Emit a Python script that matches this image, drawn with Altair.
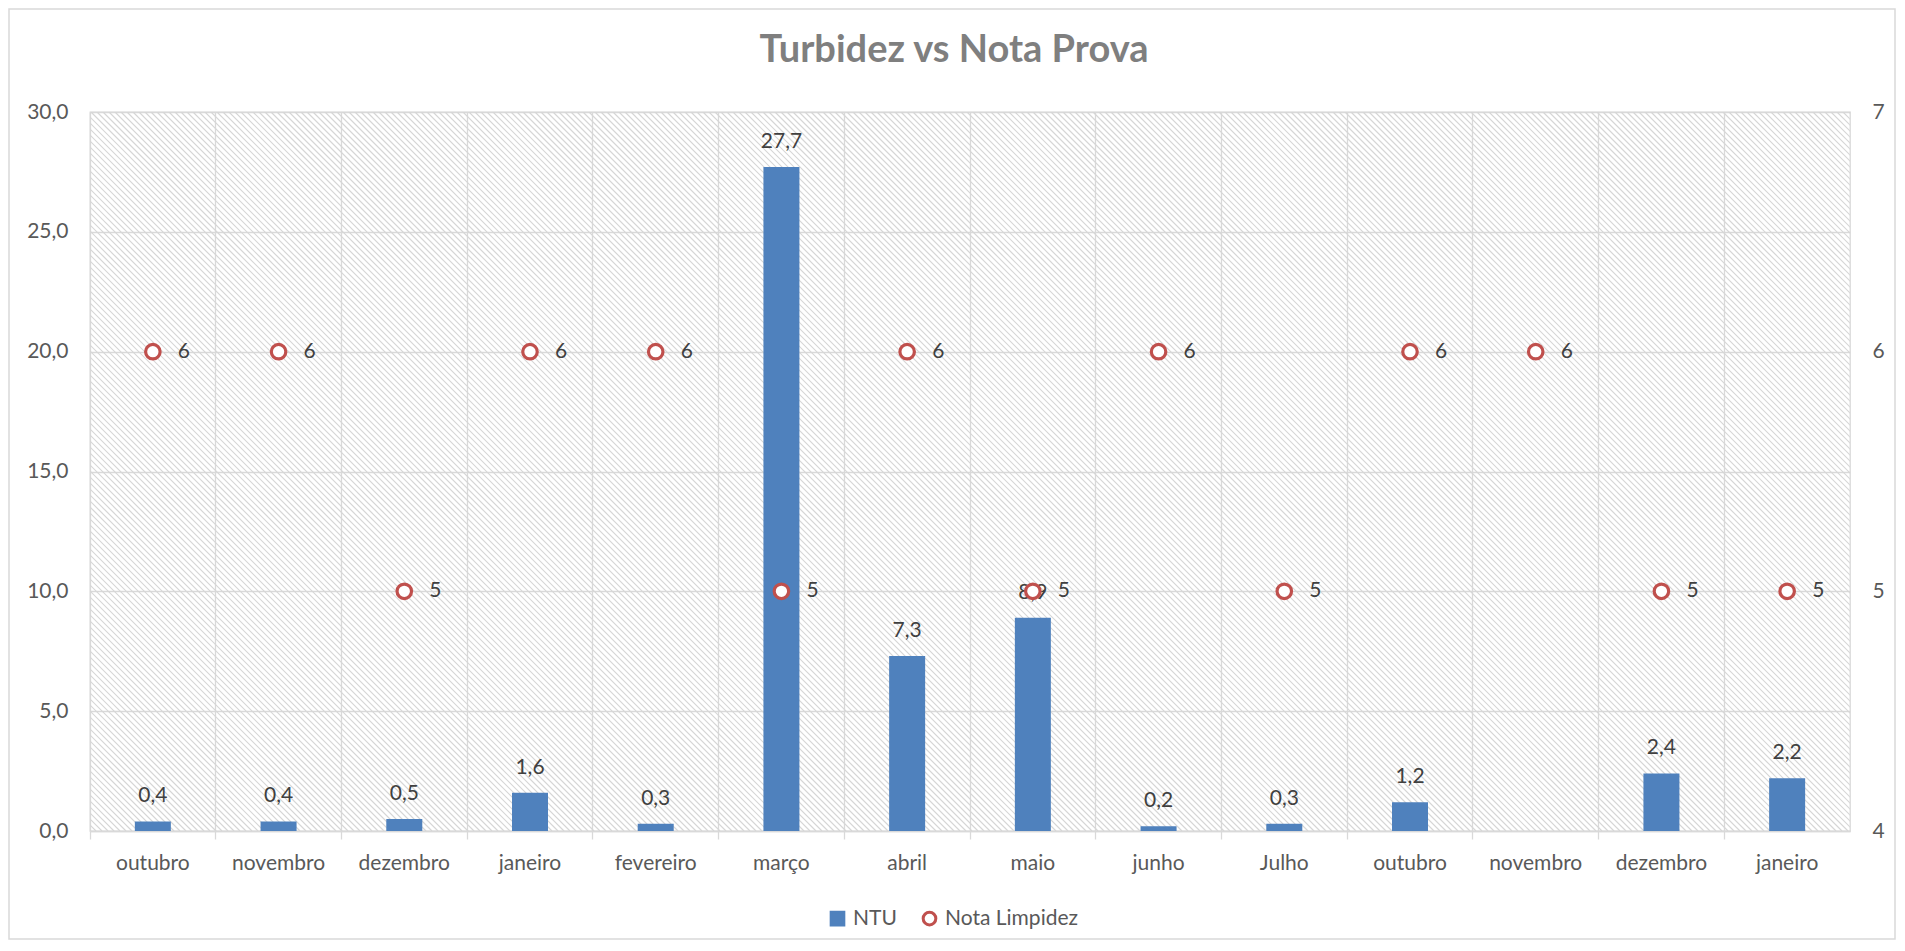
import json
import altair as alt
import pandas as pd

meses = ["outubro", "novembro", "dezembro", "janeiro", "fevereiro", "março", "abril",
         "maio", "junho", "Julho", "outubro", "novembro", "dezembro", "janeiro"]
ntu = [0.4, 0.4, 0.5, 1.6, 0.3, 27.7, 7.3, 8.9, 0.2, 0.3, 1.2, None, 2.4, 2.2]
nota = [6, 6, 5, 6, 6, 5, 6, 5, 6, 5, 6, 6, 5, 5]
y_ticks = [0, 5, 10, 15, 20, 25, 30]
y2_ticks = [4, 5, 6, 7]
series = ["NTU", "Nota Limpidez"]

W, H = 1760, 719
FONT = "Lato"
FS = 21
BLUE = "#4f81bd"
RED = "#c0504d"
GRID = "#d9d9d9"
TXT = "#404040"
AX = "#595959"

df = pd.DataFrame({"idx": list(range(len(meses))), "mes": meses, "ntu": ntu, "nota": nota})
label_expr = json.dumps(meses) + "[datum.value]"

x_enc = alt.X(
    "idx:O",
    scale=alt.Scale(paddingInner=0, paddingOuter=0),
    axis=alt.Axis(
        bandPosition=0, labelExpr=label_expr,
        grid=True, gridColor=GRID, gridWidth=1.3, ticks=True, tickSize=8,
        tickColor=GRID, tickWidth=1.3, domainColor=GRID, domainWidth=1.3,
        labelPadding=13, labelAngle=0, labelOverlap=False, labelFontSize=FS,
        labelColor=AX, labelFont=FONT, title=None,
    ),
)
x_plain = alt.X("idx:O")

color_fill = alt.Fill("serie:N", scale=alt.Scale(domain=series, range=[BLUE, "white"]),
                      legend=alt.Legend(title=None, orient="none", legendX=737, legendY=796,
                                        direction="horizontal", labelFontSize=FS,
                                        labelColor=AX, labelFont=FONT, symbolSize=160,
                                        symbolStrokeWidth=3, columnPadding=20, labelOffset=5))
color_stroke = alt.Stroke("serie:N", scale=alt.Scale(domain=series, range=[BLUE, RED]))
shape_enc = alt.Shape("serie:N", scale=alt.Scale(domain=series, range=["square", "circle"]))

# background hatch texture
hatch = alt.Chart(alt.sequence(0, 420, as_="k")).transform_calculate(
    x1=f"datum.k*6 - {H}", x2=f"datum.k*6", y1="0", y2=str(H)
).mark_rule(stroke="#d6d6d6", strokeWidth=1.2, clip=True).encode(
    x=alt.X("x1:Q", scale=None),
    x2="x2:Q",
    y=alt.Y("y1:Q", scale=None),
    y2="y2:Q",
)

base = alt.Chart(df)

y_left_scale = alt.Scale(domain=[0, 30])
y_right_scale = alt.Scale(domain=[4, 7])

bars = base.transform_filter("isValid(datum.ntu)").transform_calculate(serie="'NTU'").mark_bar(
    size=36, strokeWidth=0
).encode(
    x=x_enc,
    y=alt.Y("ntu:Q", scale=y_left_scale,
            axis=alt.Axis(values=y_ticks, labelExpr="replace(format(datum.value,'.1f'),'.',',')",
                          grid=True, gridColor=GRID, gridWidth=1.3, domain=False, ticks=False,
                          labelPadding=22, labelFontSize=FS, labelColor=AX, labelFont=FONT,
                          title=None)),
    fill=color_fill,
    stroke=color_stroke,
)

bar_labels = base.transform_filter("isValid(datum.ntu)").transform_calculate(
    lbl="replace(format(datum.ntu,'.1f'),'.',',')"
).mark_text(dy=-19, baseline="alphabetic", fontSize=FS, color=TXT, font=FONT).encode(
    x=x_plain,
    y=alt.Y("ntu:Q", scale=y_left_scale),
    text="lbl:N",
)

left = alt.layer(bars, bar_labels)

points = base.transform_calculate(serie="'Nota Limpidez'").mark_point(
    filled=True, size=210, strokeWidth=3.2, opacity=1
).encode(
    x=x_plain,
    y=alt.Y("nota:Q", scale=y_right_scale,
            axis=alt.Axis(orient="right", values=y2_ticks, format="d", grid=False,
                          domain=False, ticks=False, labelPadding=22, labelFontSize=FS,
                          labelColor=AX, labelFont=FONT, title=None)),
    fill=color_fill,
    stroke=color_stroke,
    shape=shape_enc,
)

point_labels = base.mark_text(dx=25, align="left", baseline="middle", fontSize=FS,
                              color=TXT, font=FONT).encode(
    x=x_plain,
    y=alt.Y("nota:Q", scale=y_right_scale),
    text=alt.Text("nota:Q", format="d"),
)

right = alt.layer(points, point_labels)

border = alt.Chart(alt.Data(values=[{}])).mark_rect(
    fill="white", fillOpacity=0, stroke=GRID, strokeWidth=1.5
).encode(
    x=alt.value(-81), x2=alt.value(W + 45), y=alt.value(-103), y2=alt.value(H + 108)
)

chart = alt.layer(border, hatch, left, right).resolve_scale(
    y="independent"
).properties(
    width=W, height=H,
    autosize=alt.AutoSizeParams(type="none"),
    padding={"left": 82, "top": 104, "right": 47, "bottom": 112},
    title=alt.TitleParams("Turbidez vs Nota Prova", fontSize=38, fontWeight="bold",
                          color="#7f7f7f", font=FONT, anchor="middle", baseline="alphabetic",
                          offset=-92, dx=-16),
).configure_view(stroke=GRID, strokeWidth=1.3)

chart.save("out.html", embed_options={"renderer": "svg", "actions": False})
